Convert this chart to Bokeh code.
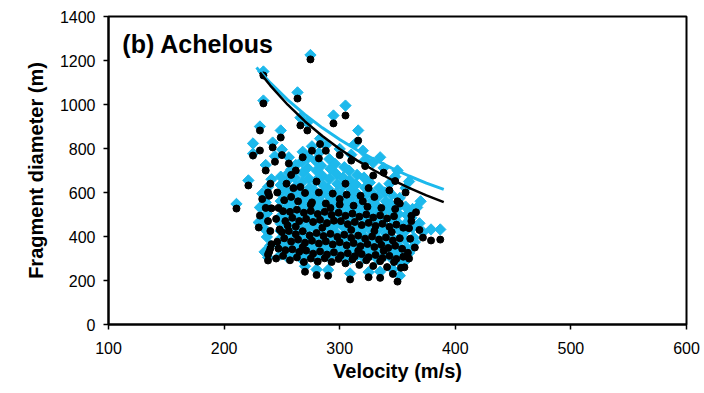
from bokeh.plotting import figure
from bokeh.models import Range1d, Label, FixedTicker
from bokeh.embed import file_html
from bokeh.resources import INLINE

# ---- fitted curves ----
curve_cyan_v = [228, 240, 255, 270, 285, 300, 315, 330, 345, 360, 375, 390]
curve_cyan_d = [1168, 1098, 1021, 954, 894, 841, 793, 750, 711, 675, 643, 614]
curve_black_v = [231, 240, 255, 270, 285, 300, 315, 330, 345, 360, 375, 390]
curve_black_d = [1145, 1086, 999, 923, 857, 798, 746, 700, 658, 621, 587, 556]

# ---- black circles (velocity m/s, diameter m) ----
black_v = [
    274.7, 234, 234, 263.5, 231, 266, 272, 249, 231, 242, 225, 221, 210.7, 305, 294.6, 316, 329, 283, 288, 300,
    310, 322, 338, 348, 343, 357, 352, 366, 362, 369, 379, 387, 372, 365, 360, 356, 346, 335, 325, 309,
    350, 290, 280, 270, 238, 238, 240, 230, 231, 236, 233, 238, 240, 236, 244, 250, 256, 262, 258, 268,
    276, 282,
    239, 241, 240, 238, 241, 239,
    245, 247, 246, 248, 245, 247, 246,
    251, 253, 252, 250, 253, 251, 252, 254,
    257, 259, 258, 256, 259, 257, 258,
    263, 265, 264, 262, 265, 263, 264, 266,
    269, 271, 270, 268, 271, 269, 270,
    275, 277, 276, 274, 277, 275, 276,
    281, 283, 282, 280, 283, 281, 282,
    287, 289, 288, 286, 289, 287, 288,
    293, 295, 294, 292, 295, 293, 294,
    299, 301, 300, 298, 301, 299, 300,
    305, 307, 306, 304, 307, 305, 306,
    311, 313, 312, 310, 313, 311, 312,
    317, 319, 318, 316, 319, 317, 318,
    323, 325, 324, 322, 325, 323, 324,
    329, 331, 330, 328, 331, 329, 330,
    335, 337, 336, 334, 337, 335, 336,
    341, 343, 342, 340, 343, 341,
    347, 349, 348, 346, 349, 347, 348,
    353, 355, 354, 352, 355,
    359, 361, 360, 362,
    262, 285, 310, 330, 275, 300, 320, 345, 255, 292, 316, 338, 268, 350, 305, 280, 260, 325,
]
black_d = [
    1205, 1132, 1005, 1027, 882, 905, 882, 850, 791, 805, 768, 632, 527, 950, 914, 836, 677, 820, 790, 770,
    745, 720, 690, 652, 610, 600, 550, 510, 470, 430, 382, 386, 395, 350, 300, 260, 230, 212, 215, 205,
    195, 222, 225, 240, 291, 318, 345, 441, 495, 530, 570, 600, 640, 700, 740, 770, 732, 700, 680, 760,
    790, 755,
    330, 365, 425, 470, 528, 585,
    300, 345, 376, 432, 480, 530, 600,
    312, 338, 392, 420, 470, 515, 565, 640,
    292, 342, 377, 425, 485, 512, 580,
    305, 330, 386, 410, 470, 522, 560, 625,
    284, 336, 372, 424, 480, 508, 598,
    300, 322, 381, 405, 466, 516, 555,
    286, 332, 368, 416, 476, 502, 600,
    301, 318, 378, 402, 461, 512, 550,
    284, 328, 364, 412, 472, 498, 595,
    298, 314, 374, 398, 470, 508, 545,
    278, 324, 360, 408, 456, 494, 590,
    296, 310, 370, 394, 466, 504, 540,
    271, 320, 356, 404, 452, 490, 585,
    292, 306, 366, 390, 462, 500, 535,
    266, 316, 352, 400, 448, 486, 580,
    288, 302, 362, 386, 458, 496, 530,
    261, 312, 348, 396, 444, 482,
    284, 298, 358, 382, 454, 492, 525,
    258, 308, 344, 392, 440,
    326, 390, 438, 494,
    445, 440, 430, 425, 545, 570, 560, 420, 450, 530, 335, 335, 352, 560, 640, 650, 620, 620,
]

# ---- cyan diamonds (velocity m/s, diameter m) ----
cyan_v = [
    274.7, 234, 234, 263.5, 231, 266, 272, 249, 225, 242, 225, 221, 210.7, 305, 294.6, 316, 329, 283, 288, 300,
    310, 322, 338, 348, 343, 357, 352, 367, 362, 369, 379, 387, 372, 365, 360, 356, 346, 335, 325, 309,
    352, 290, 280, 270, 238, 240, 230, 231, 236, 233, 238, 241, 236, 244, 250, 256, 262, 258, 268, 276,
    282, 320, 335, 350, 360, 370, 313,
    235, 237, 236, 234, 237, 236, 235,
    249, 249, 249, 249, 249, 249, 249, 249, 249, 249, 249,
    255, 254, 255, 256, 255, 254, 255, 256, 255, 254, 255, 256,
    261, 262, 261, 260, 261, 262, 261, 260, 261, 262, 261, 260,
    267, 266, 267, 268, 267, 266, 267, 268, 267, 266, 267, 268, 267,
    273, 274, 273, 272, 273, 274, 273, 272, 273, 274, 273, 272, 273,
    279, 278, 279, 280, 279, 278, 279, 280, 279, 278, 279, 280, 279,
    285, 286, 285, 284, 285, 286, 285, 284, 285, 286, 285, 284,
    291, 290, 291, 292, 291, 290, 291, 292, 291, 290, 291, 292, 291,
    297, 298, 297, 296, 297, 298, 297, 296, 297, 298, 297, 296,
    303, 302, 303, 304, 303, 302, 303, 304, 303, 302, 303, 304,
    309, 310, 309, 308, 309, 310, 309, 308, 309, 310, 309, 308,
    315, 314, 315, 316, 315, 314, 315, 316, 315, 314, 315,
    321, 322, 321, 320, 321, 322, 321, 320, 321, 322, 321,
    327, 326, 327, 328, 327, 326, 327, 328, 327, 326,
    333, 334, 333, 332, 333, 334, 333, 332, 333, 334,
    339, 338, 339, 340, 339, 338, 339, 340, 339,
    345, 346, 345, 344, 345, 346, 345, 344, 345,
    351, 350, 351, 352, 351, 350, 351, 352,
    357, 358, 357, 356, 357, 358, 357,
    363, 364, 363, 362, 363,
]
cyan_d = [
    1225, 1150, 1018, 1055, 900, 940, 918, 882, 823, 827, 777, 655, 548, 995, 950, 882, 736, 845, 815, 798,
    772, 748, 712, 672, 640, 620, 575, 532, 500, 460, 432, 432, 420, 375, 325, 285, 250, 240, 238, 232,
    222, 248, 250, 265, 305, 359, 464, 532, 555, 595, 625, 660, 725, 765, 795, 760, 725, 705, 785, 810,
    780, 790, 760, 700, 650, 560, 820,
    330, 398, 430, 470, 505, 540, 580,
    318, 352, 391, 425, 458, 492, 528, 561, 598, 634, 672,
    305, 340, 372, 408, 437, 470, 505, 541, 575, 612, 655, 690,
    322, 356, 385, 418, 452, 488, 520, 556, 592, 628, 668, 715,
    298, 333, 366, 402, 430, 466, 497, 534, 568, 606, 645, 690, 740,
    315, 348, 380, 412, 446, 478, 514, 548, 584, 622, 664, 712, 760,
    302, 336, 368, 401, 433, 468, 502, 536, 572, 610, 652, 700, 745,
    318, 352, 384, 418, 452, 486, 520, 556, 593, 632, 676, 722,
    306, 340, 372, 405, 438, 472, 507, 542, 580, 618, 662, 708, 752,
    322, 354, 388, 420, 455, 490, 524, 560, 598, 640, 684, 730,
    310, 344, 376, 410, 444, 478, 512, 548, 586, 626, 668, 715,
    298, 330, 364, 398, 432, 466, 500, 536, 574, 612, 655, 700,
    315, 348, 382, 416, 450, 484, 520, 556, 594, 636, 680,
    302, 336, 370, 404, 438, 472, 508, 544, 582, 622, 668,
    318, 352, 386, 420, 454, 490, 526, 562, 600, 645,
    296, 330, 364, 398, 432, 468, 504, 540, 580, 620,
    312, 346, 380, 414, 450, 486, 522, 560, 600,
    300, 334, 368, 402, 438, 474, 510, 548, 590,
    288, 322, 356, 392, 428, 464, 502, 540,
    310, 346, 382, 420, 458, 498, 536,
    350, 395, 440, 485, 525,
]

x_ticks = [100, 200, 300, 400, 500, 600]
y_ticks = [0, 200, 400, 600, 800, 1000, 1200, 1400]
x_title = "Velocity (m/s)"
y_title = "Fragment diameter (m)"

CYAN = "#1DB9EC"
FONT = "Liberation Sans"

p = figure(width=700, height=390, output_backend="svg", toolbar_location=None,
           x_range=Range1d(100, 600), y_range=Range1d(0, 1400),
           min_border_left=108, min_border_right=14, min_border_top=16, min_border_bottom=66)
p.xgrid.visible = False
p.ygrid.visible = False
p.outline_line_color = "black"
p.outline_line_width = 2
p.outline_line_alpha = 1
p.background_fill_color = "white"
p.border_fill_color = "white"

for ax in (p.xaxis[0], p.yaxis[0]):
    ax.axis_line_width = 2
    ax.axis_line_color = "black"
    ax.major_tick_out = 5
    ax.major_tick_in = 0
    ax.major_tick_line_width = 1.5
    ax.minor_tick_line_color = None
    ax.major_label_text_font = FONT
    ax.major_label_text_font_size = "16px"
    ax.major_label_text_color = "black"
    ax.axis_label_text_font = FONT
    ax.axis_label_text_font_size = "20px"
    ax.axis_label_text_font_style = "bold"
    ax.axis_label_text_color = "black"

p.xaxis.ticker = FixedTicker(ticks=x_ticks)
p.yaxis.ticker = FixedTicker(ticks=y_ticks)
p.xaxis.axis_label = x_title
p.yaxis.axis_label = y_title
p.xaxis.major_label_standoff = 12
p.xaxis.axis_label_standoff = 3
p.yaxis.major_label_standoff = 8
p.yaxis.axis_label_standoff = 10

p.scatter(cyan_v, cyan_d, marker="square", angle=0.785398, size=8,
          fill_color=CYAN, line_color=CYAN)
p.scatter(black_v, black_d, marker="circle", size=7,
          fill_color="black", line_color="black")

p.line(curve_cyan_v, curve_cyan_d, line_color=CYAN, line_width=3)
p.line(curve_black_v, curve_black_d, line_color="black", line_width=2.5)

p.add_layout(Label(x=112, y=1273, text="(b) Achelous", text_font=FONT,
                   text_font_size="25px", text_font_style="bold",
                   text_baseline="middle", text_color="black"))

open("out.html", "w").write(file_html(p, INLINE))
